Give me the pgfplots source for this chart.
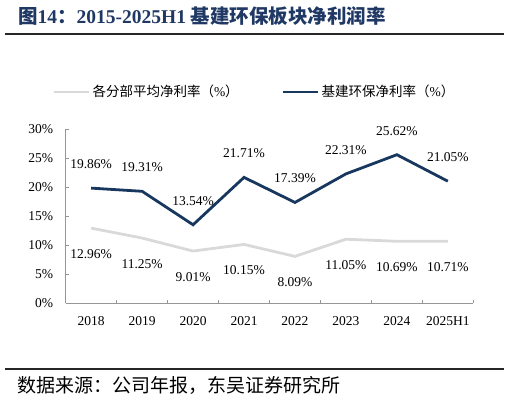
\documentclass[border=0pt]{standalone}
\usepackage{fontspec}
\setmainfont{Liberation Serif}
\newfontfamily\cjk{Noto Sans CJK SC}
\usepackage{pgfplots}
\pgfplotsset{compat=1.18}

\definecolor{navy}{RGB}{24,55,94}
\definecolor{titleblue}{RGB}{31,56,100}
\definecolor{avggray}{RGB}{217,217,217}
\definecolor{axisgray}{RGB}{150,150,150}

\begin{document}
\fontsize{13.5bp}{16bp}\selectfont
\begin{tikzpicture}
\useasboundingbox (0,0) rectangle (510bp,-403bp);

% title and rules
\node[anchor=base west, inner sep=0pt, text=titleblue, font=\fontsize{19.5bp}{22bp}\selectfont\bfseries]
  at (18bp,-23.5bp) {{\cjk 图}14{\cjk ：}2015-2025H1 {\cjk 基建环保板块净利润率}};
\draw[line width=2bp, black!85] (5bp,-34bp) -- (504bp,-34bp);
\draw[line width=2bp, black!85] (5bp,-369bp) -- (504bp,-369bp);
\node[anchor=base west, inner sep=0pt, font=\fontsize{19bp}{22bp}\selectfont\cjk]
  at (17bp,-392bp) {数据来源：公司年报，东吴证券研究所};

\begin{axis}[
    at={(65.7bp,-303.3bp)}, anchor=south west,
    scale only axis, width=407.6bp, height=174bp,
    xmin=-0.5, xmax=7.5, ymin=0, ymax=30,
    axis x line*=bottom, axis y line*=left,
    axis line style={axisgray, line width=0.9bp},
    tick align=inside,
    /pgf/number format/assume math mode=true,
    xtick={0,1,2,3,4,5,6,7},
    xticklabels={2018,2019,2020,2021,2022,2023,2024,2025H1},
    minor xtick={-0.5,0.5,1.5,2.5,3.5,4.5,5.5,6.5,7.5},
    major x tick style={draw=none},
    minor x tick style={axisgray, line width=0.9bp},
    minor tick length=3.5bp,
    ytick={0,5,10,15,20,25,30},
    yticklabel={\pgfmathprintnumber{\tick}\%},
    y tick style={axisgray, line width=0.9bp},
    major tick length=3.5bp,
    xticklabel style={yshift=-9bp},
    yticklabel style={xshift=-8bp},
    clip=false,
    legend columns=2,
    legend style={draw=none, fill=none, inner sep=0pt,
        at={(axis description cs:-0.0336,1.214)}, anchor=west,
        nodes={inner sep=2.5bp, anchor=west},
        /tikz/every even column/.append style={column sep=40bp}},
    legend image code/.code={\draw[#1] (0bp,0bp) -- (35bp,0bp);},
    nodes near coords={\pgfmathprintnumber[fixed,fixed zerofill,precision=2]{\pgfplotspointmeta}\%},
]
\addplot[avggray, line width=2.8bp, mark=none,
    every node near coord/.append style={anchor=center, yshift=-26bp, text=black}]
  coordinates {(0,12.96) (1,11.25) (2,9.01) (3,10.15) (4,8.09) (5,11.05) (6,10.69) (7,10.71)};
\addlegendentry{{\cjk 各分部平均净利率（}\%{\cjk ）}}
\addplot[navy, line width=2.8bp, mark=none,
    every node near coord/.append style={anchor=center, yshift=24bp, text=black}]
  coordinates {(0,19.86) (1,19.31) (2,13.54) (3,21.71) (4,17.39) (5,22.31) (6,25.62) (7,21.05)};
\addlegendentry{{\cjk 基建环保净利率（}\%{\cjk ）}}
\end{axis}
\end{tikzpicture}
\end{document}
